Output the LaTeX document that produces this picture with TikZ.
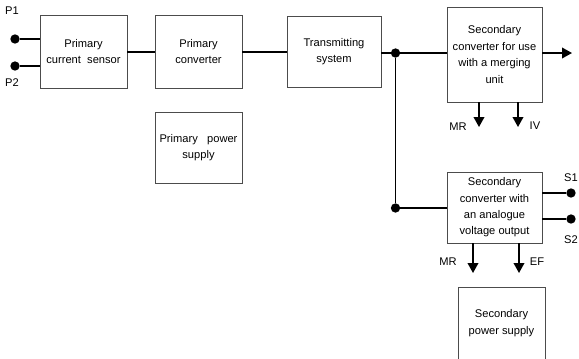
\documentclass[tikz,border=0pt]{standalone}
\usepackage{fontspec}
\setmainfont{Liberation Sans}
\usetikzlibrary{arrows.meta}
\tikzset{
  blk/.style={draw=black!70, line width=0.8pt, fill=white, align=center,
    inner sep=1pt, font=\fontsize{9.5}{14}\selectfont},
  wire/.style={line width=1.3pt},
  outarrow/.style={line width=1.3pt, -{Triangle[length=0.3cm,width=0.32cm]}},
  terminal/.style={circle, fill=black, inner sep=0pt, minimum size=0.28cm},
  lbl/.style={font=\fontsize{9.5}{11}\selectfont}
}
\begin{document}
\begin{tikzpicture}[x=0.03cm, y=-0.03cm]
        \useasboundingbox (0,0) rectangle (579,358);
        \clip (0,0) rectangle (579,358);

        % Primary side blocks
        \node[blk, minimum width=2.61cm, minimum height=2.19cm] (pcs) at (83.5,51.5) {Primary\\current\ \ sensor};
        \node[blk, minimum width=2.61cm, minimum height=2.19cm] (pconv) at (198.5,51.5) {Primary\\converter};
        \node[blk, minimum width=2.82cm, minimum height=2.13cm] (trans) at (334,51.5) {Transmitting\\system};
        \node[blk, minimum width=2.61cm, minimum height=2.13cm] (ppow) at (198.5,147.5) {Primary\ \ \ power\\supply};

        % Secondary side blocks
        \node[blk, minimum width=2.85cm, minimum height=2.85cm] (secmu) at (494.5,54.5) {Secondary\\converter for use\\with a merging\\unit};
        \node[blk, minimum width=2.85cm, minimum height=2.13cm] (secan) at (494.5,207.5) {Secondary\\converter with\\an analogue\\voltage output};
        \node[blk, minimum width=2.61cm, minimum height=2.16cm] (spow) at (501.5,323) {Secondary\\power supply};

        % Primary terminals
        \node[terminal] (p1) at (15,39) {};
        \node[lbl] (p1lbl) at (12,11) {P1};
        \node[terminal] (p2) at (15,66) {};
        \node[lbl] (p2lbl) at (12,83) {P2};
        \draw[wire] (p1) -- (p1 -| pcs.west);
        \draw[wire] (p2) -- (p2 -| pcs.west);

        % Main chain
        \draw[wire] (pcs.east |- 0,52) -- (pconv.west |- 0,52);
        \draw[wire] (pconv.east |- 0,52) -- (trans.west |- 0,52);

        % Junctions to the secondary converters
        \node[terminal] (j1) at (395.5,53) {};
        \node[terminal] (j2) at (395.5,208) {};
        \draw[wire] (trans.east |- j1) -- (j1);
        \draw[wire] (j1) -- (secmu.west |- j1);
        \draw[wire] (j1) -- (j2);
        \draw[wire] (j2) -- (secan.west |- j2);

        % Digital output and MR / IV
        \coordinate (dout) at (572,53);
        \draw[outarrow] (secmu.east |- dout) -- (dout);
        \coordinate (mr1) at (479,127);
        \coordinate (iv) at (518,127);
        \draw[outarrow] (secmu.south -| mr1) -- (mr1);
        \draw[outarrow] (secmu.south -| iv) -- (iv);
        \node[lbl] (mr1lbl) at (458,127) {MR};
        \node[lbl] (ivlbl) at (535,126) {IV};

        % Analogue outputs S1 / S2
        \node[terminal] (s1) at (571,193) {};
        \node[terminal] (s2) at (571,219) {};
        \draw[wire] (secan.east |- s1) -- (s1);
        \draw[wire] (secan.east |- s2) -- (s2);
        \node[lbl] (s1lbl) at (571,178) {S1};
        \node[lbl] (s2lbl) at (571,240) {S2};

        % MR / EF
        \coordinate (mr2) at (473,273);
        \coordinate (ef) at (519,273);
        \draw[outarrow] (secan.south -| mr2) -- (mr2);
        \draw[outarrow] (secan.south -| ef) -- (ef);
        \node[lbl] (mr2lbl) at (448,262) {MR};
        \node[lbl] (eflbl) at (537,262) {EF};
\end{tikzpicture}
\end{document}
